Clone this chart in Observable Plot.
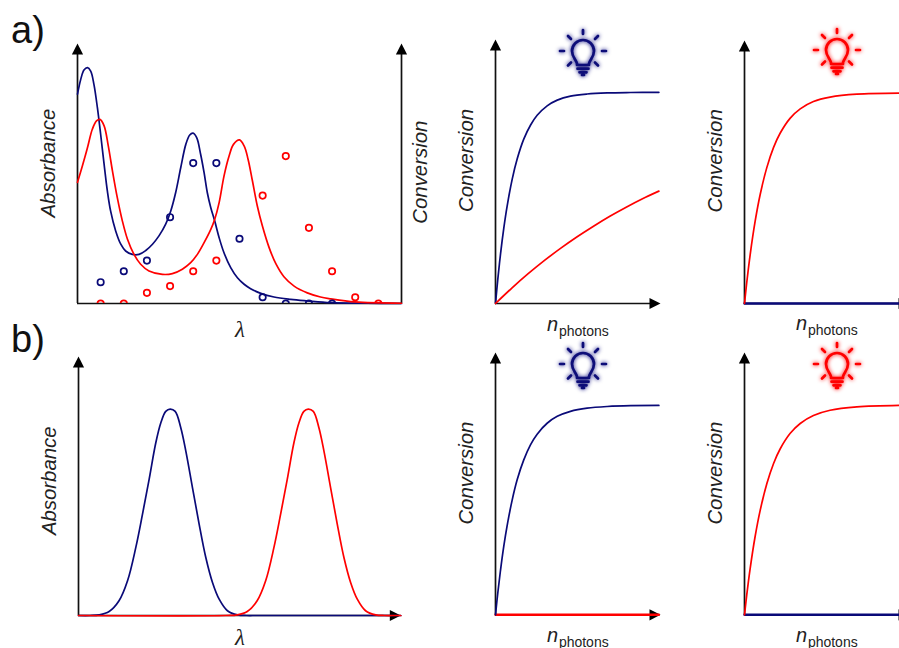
<!DOCTYPE html>
<html>
<head>
<meta charset="utf-8">
<script src="https://cdn.jsdelivr.net/npm/d3@7"></script>
<script src="https://cdn.jsdelivr.net/npm/@observablehq/plot@0.6"></script>
<style>
html,body{margin:0;padding:0;background:#fff;overflow:hidden}
#page{position:relative;width:899px;height:648px;overflow:hidden;background:#fff;font-family:"Liberation Sans",Arial,sans-serif}
.letter{position:absolute;left:11px;font-size:38px;line-height:38px;color:#111}
#page svg{position:absolute}
</style>
</head>
<body>
<div id="page">
<div class="letter" style="top:11px">a)</div>
<div class="letter" style="top:320px">b)</div>
<svg width="0" height="0" style="left:0;top:0">
  <defs>
    <filter id="glow" x="-40%" y="-40%" width="180%" height="180%">
      <feGaussianBlur in="SourceGraphic" stdDeviation="1.9" result="b"/>
      <feMerge><feMergeNode in="b"/><feMergeNode in="SourceGraphic"/></feMerge>
    </filter>
    <g id="bulb" fill="none" stroke-width="2.7" stroke-linecap="round" stroke-linejoin="round">
      <path d="M-6,14 L-6,12.5 C-7,8.5 -11,6 -11,0 A11,11 0 1 1 11,0 C11,6 7,8.5 6,12.5 L6,14 Z"/>
      <path d="M-5.5,17.7 H5.5 M-3.5,21.3 H3.5 M-1,24 H1"/>
      <path d="M0,-21 V-17 M-23,0 H-19 M19,0 H23 M-15,-15 L-12,-12 M15,-15 L12,-12 M-15,14.5 L-12,11.5 M15,14.5 L12,11.5"/>
    </g>
  </defs>
</svg>
</div>
<script>
const navy = "#0a0a78";
const red = "#ff0000";

// a) absorbance spectra
const aBlueX = [0,.14,.28,.43,.57,.71,.86,1,1.15,1.29,1.43,1.65,1.87,2.08,2.37,2.66,2.95,3.24,3.52,3.81,4.03,4.24,4.46,4.68,4.85,4.99,5.15,5.32,5.47,5.61,5.76,5.93,6.12,6.33,6.62,6.91,7.2,7.48,7.92,8.49,9.21,9.93,10.94,12.52,14];
const aBlueY = [80.5,86.2,89.8,90.7,89.4,84.3,75.3,65.1,53.5,43.3,35.6,27.9,22.8,20.2,18.9,18.9,20.4,22.8,26,30.5,35.6,42.6,52.2,61.2,64.8,65.5,63.8,57.4,50.3,42.6,36.8,31.7,25.3,19.5,13.8,9.9,7.4,5.7,3.9,2.5,1.6,1,.3,.1,0];
const aRedX = [0,.21,.43,.64,.82,.97,1.15,1.33,1.51,1.72,1.94,2.16,2.44,2.73,3.09,3.67,4.1,4.53,4.89,5.18,5.47,5.76,5.93,6.12,6.33,6.55,6.74,7,7.2,7.37,7.56,7.77,7.99,8.28,8.57,8.92,9.36,9.93,10.5,10.94,12,14];
const aRedY = [46.6,52.9,59.9,67,70.2,70.8,68.3,60.6,51,40.7,31.7,24.7,18.9,15.1,12.5,11.2,11.5,13.2,15.7,18.9,23.4,28.5,32.4,38.8,49,56.7,61.2,62.9,60.6,55.5,47.1,37.5,29.8,21.5,15.3,10.3,6.7,4.1,2.5,1.8,.6,.1];

// a) conversion measured per wavelength
const aBlueDotX = [1,2,3,4,5,6,7,8,9,10,11];
const aBlueDotY = [8.2,12.4,16.5,33.2,54,54,24.9,2.4,0,0,0];
const aRedDotX = [1,2,3,4,5,6,8,9,10,11,12,13];
const aRedDotY = [0,0,4.1,6.7,12.4,16.5,41.5,56.7,29.1,12.4,2.4,0];

// a) conversion vs photons
const a2BlueX = [0,1.4,3.1,5.1,7.1,10.2,13.3,17.3,21.4,25.5,31.6,37.8,45.9,56.1,68.4,82.7,100];
const a2BlueY = [0,11.4,23.6,35.8,46,58.8,68.5,77.8,84.4,89.1,93.6,96.3,98.2,99.2,99.7,99.9,100];
const a2RedX = [0,10,20,30,40,50,60,70,80,90,100];
const a2RedY = [0,7.3,14.1,20.4,26.2,31.6,36.6,41.3,45.6,49.6,53.2];
const a3RedX = [0,1.4,3.5,6.5,9.6,13.7,17.8,21.8,28,34.1,42.2,52.4,68.8,94.7];
const a3RedY = [0,10.1,23.4,39,51.8,64.7,74.2,80.9,88.1,92.5,96,98.1,99.5,100];

// b) absorbance spectra
const bBlueX = [0,.5,.9,1.33,1.76,2.13,2.49,2.78,3.07,3.36,3.58,3.79,3.98,4.2,4.44,4.66,4.95,5.24,5.53,5.82,6.11,6.47,6.91,7.3,7.8,14];
const bBlueY = [0,0,.3,1.9,7.1,16.8,33,49.1,66.1,83.8,93.5,98.9,100,98.9,91.1,79.8,62,44.3,28.1,16,7.9,2.3,.3,0,0,0];
const bRedX = [0,6.4,6.9,7.33,7.76,8.13,8.49,8.78,9.07,9.36,9.58,9.79,9.98,10.2,10.44,10.66,10.95,11.24,11.53,11.82,12.11,12.47,12.91,13.3,13.8,14];
const bRedY = [0,0,.3,1.9,7.1,16.8,33,49.1,66.1,83.8,93.5,98.9,100,98.9,91.1,79.8,62,44.3,28.1,16,7.9,2.3,.3,0,0,0];

// b) conversion vs photons
const b2BlueX = [0,1.4,3.1,5.1,7.1,10.2,13.3,17.3,21.4,25.5,31.6,37.8,45.9,56.1,68.4,82.7,100];
const b2BlueY = [0,10.4,21.5,32.9,42.5,54.8,64.6,74,81.2,86.3,91.5,94.8,97.2,98.7,99.5,99.9,100];
const b3RedX = [0,1.4,3.5,6.5,9.6,13.7,17.8,21.8,28,34.1,42.2,52.4,68.8,94.7];
const b3RedY = [0,9.6,22.3,37.4,49.9,62.7,72.3,79.2,86.7,91.4,95.2,97.7,99.3,100];
const flatX = [0,100];
const flatY = [0,0];

const triangle = {draw(c, l) { c.moveTo(0, -l); c.lineTo(-5.6, 0); c.lineTo(5.6, 0); c.closePath(); }};
const page = document.getElementById("page");

function curve(xs, ys, color, w = 1.7) {
  return Plot.line(ys, {x: xs, y: ys, stroke: color, strokeWidth: w, curve: "catmull-rom"});
}
function yLabel(t, x, y) {
  return Plot.text([t], {x: [x], y: [y], text: d => d, rotate: -90, fontSize: 20.4, fontStyle: "italic", fill: "#222", fontFamily: "Liberation Sans"});
}
function lambda(x, y) {
  return Plot.text(["λ"], {x: [x], y: [y], text: d => d, fontSize: 23, fontStyle: "italic", fill: "#222", fontFamily: "Liberation Serif"});
}
function nPhotons(nx, ny, px, py) {
  return [
    Plot.text(["n"], {x: [nx], y: [ny], text: d => d, fontSize: 20, fontStyle: "italic", textAnchor: "start", lineAnchor: "bottom", fill: "#222", fontFamily: "Liberation Sans"}),
    Plot.text(["photons"], {x: [px], y: [py], text: d => d, fontSize: 14, textAnchor: "start", lineAnchor: "bottom", fill: "#222", fontFamily: "Liberation Sans"})
  ];
}
function panel({left, base, w, h, xMax, yMax, arrowRight, rightAxis, marks}) {
  const mL = 50, mR = 45, mT = 6, mB = 50;
  const axisMarks = [
    Plot.ruleX([0], {y1: 0, y2: yMax * 0.97, stroke: "#111", strokeWidth: 1.7}),
    Plot.ruleY([0], {x1: 0, x2: arrowRight ? xMax * 0.97 : xMax, stroke: "#111", strokeWidth: 1.7}),
    Plot.vector([0], {x: [0], y: [yMax], length: 11, anchor: "end", shape: triangle, fill: "#000", stroke: "none"})
  ];
  if (arrowRight) axisMarks.push(Plot.vector([0], {x: [xMax], y: [0], length: 11, rotate: 90, anchor: "end", shape: triangle, fill: "#000", stroke: "none"}));
  if (rightAxis) axisMarks.push(
    Plot.ruleX([xMax], {y1: 0, y2: yMax * 0.97, stroke: "#111", strokeWidth: 1.7}),
    Plot.vector([0], {x: [xMax], y: [yMax], length: 11, anchor: "end", shape: triangle, fill: "#000", stroke: "none"})
  );
  const svg = Plot.plot({
    width: w + mL + mR, height: h + mT + mB,
    marginLeft: mL, marginRight: mR, marginTop: mT, marginBottom: mB,
    x: {domain: [0, xMax], axis: null},
    y: {domain: [0, yMax], axis: null},
    style: {background: "transparent", overflow: "visible", maxWidth: "none"},
    marks: [...axisMarks, ...marks]
  });
  svg.style.left = (left - mL) + "px";
  svg.style.top = (base - h - mT) + "px";
  page.appendChild(svg);
}

panel({left: 76.8, base: 302.5, w: 324, h: 260, xMax: 14, yMax: 100, rightAxis: true, marks: [
  curve(aBlueX, aBlueY, navy),
  curve(aRedX, aRedY, red),
  Plot.dot(aBlueDotY, {x: aBlueDotX, y: aBlueDotY, r: 3.2, stroke: navy, strokeWidth: 1.7, fill: "none", clip: true}),
  Plot.dot(aRedDotY, {x: aRedDotX, y: aRedDotY, r: 3.2, stroke: red, strokeWidth: 1.7, fill: "none", clip: true}),
  yLabel("Absorbance", -1.25, 54),
  yLabel("Conversion", 14.8, 50.5),
  lambda(7.02, -10)
]});

panel({left: 495, base: 303, w: 165, h: 264, xMax: 101, yMax: 125, arrowRight: true, marks: [
  curve(a2BlueX, a2BlueY, navy),
  curve(a2RedX, a2RedY, red),
  yLabel("Conversion", -18, 67.7),
  ...nPhotons(31.6, -12.8, 38.8, -15.2)
]});

panel({left: 744.3, base: 303, w: 165, h: 263, xMax: 101, yMax: 125, arrowRight: true, marks: [
  curve(flatX, flatY, navy, 2.4),
  curve(a3RedX, a3RedY, red),
  yLabel("Conversion", -18, 67.8),
  ...nPhotons(31.6, -12.8, 38.8, -15.2)
]});

panel({left: 77.7, base: 615, w: 322.3, h: 259, xMax: 14, yMax: 125.5, arrowRight: true, marks: [
  curve(bBlueX, bBlueY, navy),
  curve(bRedX, bRedY, red),
  yLabel("Absorbance", -1.25, 65.3),
  lambda(7.02, -10.8)
]});

panel({left: 495, base: 614, w: 165, h: 262.3, xMax: 101, yMax: 125.3, arrowRight: true, marks: [
  curve(flatX, flatY, red, 2.4),
  curve(b2BlueX, b2BlueY, navy),
  yLabel("Conversion", -18, 67.7),
  ...nPhotons(31.6, -13.2, 38.8, -15.6)
]});

panel({left: 744.3, base: 614, w: 165, h: 262.3, xMax: 101, yMax: 125.3, arrowRight: true, marks: [
  curve(flatX, flatY, navy, 2.4),
  curve(b3RedX, b3RedY, red),
  yLabel("Conversion", -18, 67.7),
  ...nPhotons(31.6, -13.2, 38.8, -15.6)
]});

// lightbulb icons above the conversion panels
const bulbs = [[583.3, 50.7, navy], [836.7, 50.3, red], [583.3, 364, navy], [836.7, 364, red]];
for (const [cx, cy, color] of bulbs) {
  const s = d3.create("svg").attr("width", 70).attr("height", 70)
    .style("left", (cx - 35) + "px").style("top", (cy - 32) + "px");
  s.append("use").attr("href", "#bulb").attr("x", 35).attr("y", 32)
    .attr("stroke", color).attr("filter", "url(#glow)");
  page.appendChild(s.node());
}
</script>
</body>
</html>
